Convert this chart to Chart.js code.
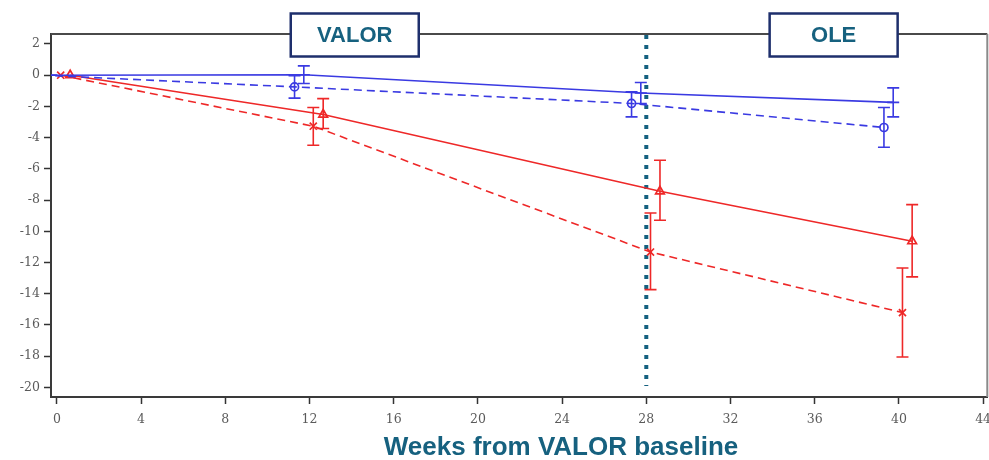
<!DOCTYPE html>
<html>
<head>
<meta charset="utf-8">
<script src="https://cdn.jsdelivr.net/npm/chart.js@4.4.1/dist/chart.umd.min.js"></script>
<style>
  html, body { margin: 0; padding: 0; background: #ffffff; overflow: hidden; }
  #wrap { width: 989px; height: 460px; overflow: hidden; }
  #chart { display: block; }
</style>
</head>
<body>
<div id="wrap"><canvas id="chart" width="995" height="460"></canvas></div>
<script>
// Change from VALOR baseline by visit; groups are slightly dodged along the week axis
const blueSolidWeeks = [-0.27, 11.73, 27.74, 39.73];
const blueSolidMean  = [0, 0.03, -1.14, -1.74];
const blueSolidLow   = [null, -0.53, -1.81, -2.67];
const blueSolidHigh  = [null, 0.60, -0.47, -0.81];

const blueDashWeeks = [-0.70, 11.29, 27.30, 39.29];
const blueDashMean  = [0, -0.75, -1.81, -3.35];
const blueDashLow   = [null, -1.47, -2.67, -4.62];
const blueDashHigh  = [null, -0.04, -1.07, -2.07];

const redDashWeeks = [0.18, 12.18, 28.20, 40.17];
const redDashMean  = [0, -3.27, -11.33, -15.21];
const redDashLow   = [null, -4.49, -13.74, -18.06];
const redDashHigh  = [null, -2.07, -8.83, -12.35];

const redSolidWeeks = [0.63, 12.65, 28.65, 40.63];
const redSolidMean  = [0, -2.52, -7.44, -10.64];
const redSolidLow   = [null, -3.42, -9.29, -12.92];
const redSolidHigh  = [null, -1.50, -5.45, -8.29];

const xTickWeeks = [0, 4, 8, 12, 16, 20, 24, 28, 32, 36, 40, 44];
const yTickValues = [2, 0, -2, -4, -6, -8, -10, -12, -14, -16, -18, -20];

const phaseBoundaryWeek = 28;
const phaseLabels = ['VALOR', 'OLE'];
const phaseLabelWeeks = [14.15, 36.9];
const xAxisTitle = 'Weeks from VALOR baseline';

const BLUE = 'rgb(58,58,226)';
const RED = 'rgb(238,40,40)';
const TEAL = '#16617f';
const NAVY = '#1e2f6c';

function toPoints(xs, ys) {
  return xs.map((x, i) => ({ x: x, y: ys[i] }));
}

function series(label, xs, ys, lo, hi, color, dash, style, radius) {
  return {
    label: label,
    data: toPoints(xs, ys),
    errLow: lo,
    errHigh: hi,
    showLine: true,
    borderColor: color,
    backgroundColor: 'rgba(0,0,0,0)',
    borderWidth: 1.6,
    borderDash: dash,
    pointStyle: style,
    pointRadius: radius,
    pointBorderColor: color,
    pointBackgroundColor: 'rgba(0,0,0,0)',
    pointBorderWidth: 1.7,
    tension: 0
  };
}

// Vertical error bars with end caps, placed through the chart's own scales
const errorBars = {
  id: 'errorBars',
  afterDatasetsDraw(chart) {
    const { ctx, chartArea, scales } = chart;
    ctx.save();
    ctx.beginPath();
    ctx.rect(chartArea.left, chartArea.top, chartArea.right - chartArea.left, chartArea.bottom - chartArea.top);
    ctx.clip();
    chart.data.datasets.forEach(ds => {
      ctx.strokeStyle = ds.borderColor;
      ctx.lineWidth = 1.6;
      ctx.setLineDash([]);
      ds.data.forEach((p, i) => {
        const lo = ds.errLow[i], hi = ds.errHigh[i];
        if (lo === null || hi === null) return;
        const x = scales.x.getPixelForValue(p.x);
        const y1 = scales.y.getPixelForValue(lo);
        const y2 = scales.y.getPixelForValue(hi);
        const cap = 6;
        ctx.beginPath();
        ctx.moveTo(x, y1); ctx.lineTo(x, y2);
        ctx.moveTo(x - cap, y1); ctx.lineTo(x + cap, y1);
        ctx.moveTo(x - cap, y2); ctx.lineTo(x + cap, y2);
        ctx.stroke();
      });
    });
    ctx.restore();
  }
};

// Frame, study-phase boundary, phase boxes and axis title
const decorations = {
  id: 'decorations',
  beforeDatasetsDraw(chart) {
    const { ctx, chartArea, scales } = chart;
    ctx.save();
    // top and right frame edges
    ctx.strokeStyle = '#4a4a4a';
    ctx.lineWidth = 2;
    ctx.beginPath();
    ctx.moveTo(chartArea.left, chartArea.top);
    ctx.lineTo(chartArea.right, chartArea.top);
    ctx.stroke();
    ctx.strokeStyle = '#8a8a8a';
    ctx.beginPath();
    ctx.moveTo(chartArea.right, chartArea.top);
    ctx.lineTo(chartArea.right, chartArea.bottom);
    ctx.stroke();
    // dotted boundary between the two study phases
    const bx = scales.x.getPixelForValue(phaseBoundaryWeek);
    ctx.strokeStyle = '#14607f';
    ctx.lineWidth = 4;
    ctx.setLineDash([4, 6]);
    ctx.beginPath();
    ctx.moveTo(bx, chartArea.top + 1);
    ctx.lineTo(bx, chartArea.bottom - 11);
    ctx.stroke();
    ctx.restore();
  },
  afterDraw(chart) {
    const { ctx, chartArea, scales } = chart;
    ctx.save();
    const boxW = 128, boxH = 43;
    phaseLabels.forEach((txt, i) => {
      const cx = scales.x.getPixelForValue(phaseLabelWeeks[i]);
      const cy = chartArea.top + 1;
      ctx.fillStyle = '#ffffff';
      ctx.fillRect(cx - boxW / 2, cy - boxH / 2, boxW, boxH);
      ctx.strokeStyle = NAVY;
      ctx.lineWidth = 2.5;
      ctx.strokeRect(cx - boxW / 2, cy - boxH / 2, boxW, boxH);
      ctx.fillStyle = TEAL;
      ctx.font = 'bold 22px "Liberation Sans", Arial, sans-serif';
      ctx.textAlign = 'center';
      ctx.textBaseline = 'middle';
      ctx.fillText(txt, cx, cy + 1);
    });
    ctx.fillStyle = TEAL;
    ctx.font = 'bold 26px "Liberation Sans", Arial, sans-serif';
    ctx.textAlign = 'center';
    ctx.textBaseline = 'alphabetic';
    ctx.fillText(xAxisTitle, 561, 455);
    ctx.restore();
  }
};

new Chart(document.getElementById('chart'), {
  type: 'scatter',
  data: {
    datasets: [
      series('Solid blue', blueSolidWeeks, blueSolidMean, blueSolidLow, blueSolidHigh, BLUE, [], 'line', 6),
      series('Dashed blue', blueDashWeeks, blueDashMean, blueDashLow, blueDashHigh, BLUE, [8, 5], 'circle', 4),
      series('Solid red', redSolidWeeks, redSolidMean, redSolidLow, redSolidHigh, RED, [], 'triangle', 5),
      series('Dashed red', redDashWeeks, redDashMean, redDashLow, redDashHigh, RED, [8, 5], 'crossRot', 5)
    ]
  },
  options: {
    responsive: false,
    animation: false,
    events: [],
    layout: { padding: { top: 34, right: 0, left: 0, bottom: 0 } },
    plugins: { legend: { display: false }, tooltip: { enabled: false } },
    scales: {
      x: {
        type: 'linear',
        min: -0.28,
        max: 44.2,
        afterFit(scale) {
          scale.height = 63;
          scale.paddingLeft = 0;
          scale.paddingRight = 0;
        },
        afterBuildTicks(scale) { scale.ticks = xTickWeeks.map(v => ({ value: v })); },
        grid: { drawOnChartArea: false, tickLength: 7, tickColor: '#333', tickWidth: 1.5 },
        border: { color: '#3a3a3a', width: 2 },
        ticks: {
          color: '#5a5a5a',
          padding: 8,
          maxRotation: 0,
          font: { family: '"DejaVu Serif", serif', size: 12.5 }
        }
      },
      y: {
        type: 'linear',
        min: -20.62,
        max: 2.64,
        afterFit(scale) {
          scale.width = 51;
          scale.paddingTop = 0;
          scale.paddingBottom = 0;
        },
        afterBuildTicks(scale) { scale.ticks = yTickValues.map(v => ({ value: v })); },
        grid: { drawOnChartArea: false, tickLength: 7, tickColor: '#333', tickWidth: 1.5 },
        border: { color: '#3a3a3a', width: 2 },
        ticks: {
          color: '#5a5a5a',
          padding: 4,
          font: { family: '"DejaVu Serif", serif', size: 12.5 }
        }
      }
    }
  },
  plugins: [decorations, errorBars]
});
</script>
</body>
</html>
